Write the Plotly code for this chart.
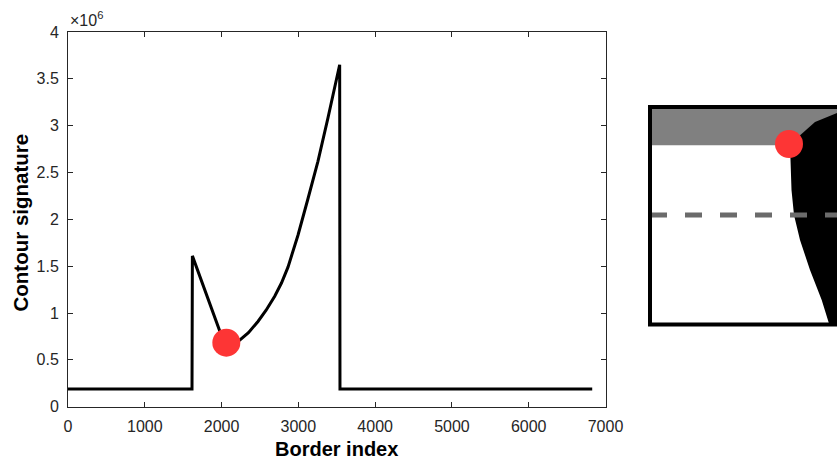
import plotly.graph_objects as go

# ---- main chart data ----
border_index = [0, 1615, 1620, 1700, 1800, 1900, 1980, 2060, 2150, 2236, 2350,
                2474, 2580, 2692, 2780, 2865, 2930, 2995, 3125, 3255, 3385,
                3495, 3538, 3542, 6827]
signature = [0.19e6, 0.19e6, 1.61e6, 1.43e6, 1.20e6, 0.97e6, 0.80e6, 0.69e6,
             0.69e6, 0.71e6, 0.79e6, 0.91e6, 1.03e6, 1.18e6, 1.32e6, 1.49e6,
             1.65e6, 1.83e6, 2.22e6, 2.62e6, 3.08e6, 3.48e6, 3.65e6, 0.19e6,
             0.19e6]
marker_index = [2062]
marker_value = [0.683e6]

x_ticks = [0, 1000, 2000, 3000, 4000, 5000, 6000, 7000]
y_ticks = [0, 0.5e6, 1e6, 1.5e6, 2e6, 2.5e6, 3e6, 3.5e6, 4e6]
y_tick_text = ["0", "0.5", "1", "1.5", "2", "2.5", "3", "3.5", "4"]

# ---- inset image (units: pixels from inset box bottom-left) ----
contour_x = [187, 165, 147, 140, 140.5, 141.5, 144, 150, 160, 171.7, 179.3, 200, 200]
contour_y = [211.5, 202.5, 186.5, 176.5, 164.5, 134.5, 109.5, 84.5, 54.5, 24.5, 0, 0, 211.5]
band_x = [0, 200, 200, 0]
band_y = [179.2, 179.2, 217.5, 217.5]
dash_x = [0, 200]
dash_y = [109.5, 109.5]
inset_dot_x = [139]
inset_dot_y = [180.5]

FONT = "Liberation Sans, Arial, Helvetica, sans-serif"
AXC = "#262626"
RED = "#fd3535"

fig = go.Figure()
fig.add_trace(go.Scatter(x=border_index, y=signature, mode="lines",
                         line=dict(color="black", width=3), showlegend=False,
                         hoverinfo="skip"))
fig.add_trace(go.Scatter(x=marker_index, y=marker_value, mode="markers",
                         marker=dict(color=RED, size=28, line=dict(width=0)),
                         showlegend=False, cliponaxis=False))

# inset traces
fig.add_trace(go.Scatter(x=band_x, y=band_y, fill="toself", mode="lines",
                         line=dict(width=0, color="#808080"), fillcolor="#808080",
                         xaxis="x2", yaxis="y2", showlegend=False))
fig.add_trace(go.Scatter(x=contour_x, y=contour_y, fill="toself", mode="lines",
                         line=dict(width=0, color="black"), fillcolor="black",
                         xaxis="x2", yaxis="y2", showlegend=False))
fig.add_trace(go.Scatter(x=dash_x, y=dash_y, mode="lines",
                         line=dict(width=5, color="#6b6b6b", dash="17px,18px"),
                         xaxis="x2", yaxis="y2", showlegend=False))
fig.add_trace(go.Scatter(x=inset_dot_x, y=inset_dot_y, mode="markers",
                         marker=dict(color=RED, size=28, line=dict(width=0)),
                         xaxis="x2", yaxis="y2", showlegend=False))

fig.add_shape(type="rect", xref="x2", yref="y2", x0=0, x1=200, y0=0, y1=217.5,
              line=dict(color="black", width=4), layer="above")

W, H = 837, 462
axis_common = dict(showline=True, linecolor=AXC, linewidth=1, mirror="ticks",
                   ticks="inside", ticklen=5, tickwidth=1, tickcolor=AXC,
                   showgrid=False, zeroline=False,
                   tickfont=dict(family=FONT, size=16, color=AXC))

fig.update_layout(
    width=W, height=H, autosize=False,
    margin=dict(l=0, r=0, t=0, b=0, pad=0, autoexpand=False),
    paper_bgcolor="white", plot_bgcolor="white",
    xaxis=dict(domain=[68 / W, 605.5 / W], range=[0, 7000], tickvals=x_ticks,
               ticklabelstandoff=5, **axis_common),
    yaxis=dict(domain=[(H - 406.7) / H, (H - 32) / H], range=[0, 4e6],
               tickvals=y_ticks, ticktext=y_tick_text, ticklabelstandoff=5,
               **axis_common),
    xaxis2=dict(domain=[645 / W, 1.0], range=[-5, 187], visible=False,
                fixedrange=True),
    yaxis2=dict(domain=[(H - 330) / H, (H - 100) / H], range=[-5.5, 224.5],
                visible=False, fixedrange=True),
    annotations=[
        dict(text="<b>Border index</b>", xref="paper", yref="paper",
             x=336.5 / W, y=0, xanchor="center", yanchor="bottom",
             showarrow=False, font=dict(family=FONT, size=20, color="black")),
        dict(text="<b>Contour signature</b>", xref="paper", yref="paper",
             x=20 / W, y=(H - 222.5) / H, xanchor="center", yanchor="middle",
             textangle=-90, showarrow=False,
             font=dict(family=FONT, size=20.5, color="black")),
        dict(text="×10<sup>6</sup>", xref="paper", yref="paper",
             x=68 / W, y=(H - 31) / H, xanchor="left", yanchor="bottom",
             showarrow=False, font=dict(family=FONT, size=16, color=AXC)),
    ],
)

fig.write_html("out.html", config={"responsive": False},
               post_script="document.body.style.margin='0';"
                           "document.body.style.overflow='hidden';")
